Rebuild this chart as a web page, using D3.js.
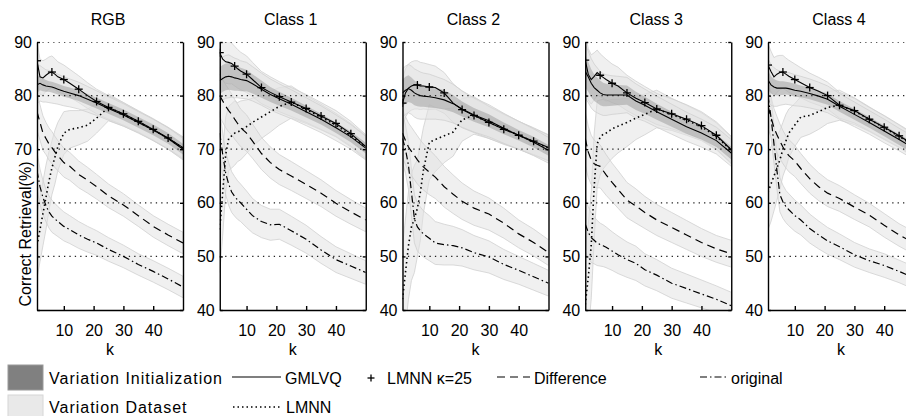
<!DOCTYPE html>
<meta charset="utf-8">
<style>
body { margin: 0; background: #fff; }
svg { display: block; font-family: "Liberation Sans", Arial, sans-serif; }

.band_data {
  fill: #e2e2e2;
  fill-opacity: .5;
  stroke: #d0d0d0;
  stroke-width: .8;
}
.band_init {
  fill: #7c7c7c;
  fill-opacity: .36;
  stroke: none;
}
.grid {
  stroke: #222;
  stroke-width: 1.3;
  stroke-dasharray: 1.3, 4.1;
}
.linha_gmlvq, .linha_lmnnk { fill: none; stroke: #000; stroke-width: 1.1; }
.linha_lmnn { fill: none; stroke: #000; stroke-width: 1.6; stroke-dasharray: 1.5, 3; }
.linha_diff { fill: none; stroke: #000; stroke-width: 1.2; stroke-dasharray: 8, 5; }
.linha_orig { fill: none; stroke: #000; stroke-width: 1.2; stroke-dasharray: 7, 3, 1.5, 3; }
.marker { stroke: #000; stroke-width: 1.3; }
.axis path, .axis line { stroke: #000; stroke-width: 1.4; }
.axis text { font-size: 16px; fill: #000; font-family: "Liberation Sans", Arial, sans-serif; }
</style>
<body>

<script src="https://cdn.jsdelivr.net/npm/d3@7"></script>
<script>

// panel names and k values
var panels = ["RGB", "Class 1", "Class 2", "Class 3", "Class 4"];
var ks = [1, 2, 3, 4, 5, 6, 7, 8, 10, 12, 15, 18, 21, 25, 30, 35, 40, 45, 50];
var markerKs = [1, 6, 10, 15, 21, 25, 30, 35, 40, 45];
var yTicks = [40, 50, 60, 70, 80, 90];
var xTicks = [10, 20, 30, 40];

// one row per panel (RGB, Class 1..4), values in %
var gmlvq = [
  [82, 82.3, 82, 81.8, 81.7, 81.6, 81.4, 81.2, 80.8, 80.5, 80, 79.3, 78.6, 77.6, 76.4, 75, 73.6, 72, 70],
  [82.8, 83.2, 83.5, 83.6, 83.5, 83.3, 83.2, 83, 82.8, 82.2, 81.2, 80.2, 79.4, 78.4, 77, 75.6, 74, 72.3, 70.2],
  [80.5, 81, 81.3, 81, 80.5, 80.2, 80, 79.9, 79.8, 79.6, 79.2, 78.5, 77.5, 76.4, 75.3, 73.9, 72.6, 71.3, 69.8],
  [84.5, 83.5, 82.3, 81.5, 81, 80.5, 80.2, 80.1, 80.1, 80.1, 80.1, 79, 78.2, 77, 75.6, 74.2, 73, 71.6, 69.3],
  [82.9, 82, 81.6, 81.4, 81.4, 81.4, 81.4, 81.3, 81, 80.8, 80.4, 79.9, 79.3, 78, 76.5, 75, 73.4, 71.8, 70.2]
];
var lmnnK25 = [
  [86.5, 83.5, 83.3, 83.8, 84.2, 84.4, 84, 83.5, 83, 82.3, 81.2, 80, 78.9, 77.8, 76.6, 75.2, 73.7, 72.1, 70.3],
  [88, 86.8, 86.3, 86.2, 86, 85.5, 85, 84.6, 84, 83, 81.5, 80.6, 79.8, 78.8, 77.6, 76.2, 74.8, 72.9, 70.5],
  [78.6, 80.5, 81.4, 81.8, 82, 82, 81.8, 81.8, 81.6, 81.5, 80.5, 78.6, 77.4, 76.3, 75, 73.7, 72.6, 71.5, 70.3],
  [86.6, 84, 83, 83.6, 84.3, 83.8, 83.4, 83, 82.3, 81.8, 80.5, 79.5, 78.7, 77.5, 76.6, 75.6, 74.4, 72.6, 69.9],
  [85.7, 84.5, 83.5, 84, 84.3, 84.4, 84, 83.6, 83, 82.4, 81.5, 80.8, 80, 78.2, 77.2, 75.6, 74.1, 72.5, 70.8]
];
var lmnn = [
  [52, 55, 58, 61, 64, 66.5, 68.5, 70.5, 73, 73.7, 74, 74.5, 75.8, 77.8, 76.5, 75.1, 73.6, 72, 70.2],
  [55, 62, 69, 72, 72.5, 73, 73.2, 73.5, 74.2, 75, 76, 77, 78, 78.8, 77.4, 76, 74.5, 72.6, 70.3],
  [42, 47, 52, 55.5, 57, 59, 62, 66, 71.3, 71.8, 72.5, 73.2, 75.5, 76.3, 75, 73.8, 72.6, 71.4, 70.2],
  [41, 46, 52, 63, 71, 72.2, 72.8, 73, 73.8, 74.3, 75, 75.8, 76.5, 77.5, 76.5, 75.4, 74.2, 72.4, 69.8],
  [62, 63.5, 65, 66.5, 68, 70, 71.5, 73, 74.5, 76, 76.3, 77, 77.8, 78.2, 77.1, 75.6, 74, 72.4, 70.6]
];
var difference = [
  [77, 75, 73, 72, 71, 70.3, 69.5, 68.8, 67.5, 66.8, 65.3, 64.2, 63, 61.3, 59.6, 57.6, 55.6, 54, 52.5],
  [80, 79, 78, 77.2, 76.5, 75.6, 74.8, 74, 73, 71.5, 69.2, 67.5, 66.2, 65, 63.4, 61.8, 59.9, 58.3, 56.8],
  [73, 71.6, 70.4, 69.6, 68.8, 68, 67.3, 66.7, 65.7, 64.8, 63, 61.6, 60.3, 59, 57.9, 56.2, 54.2, 52.6, 50.7],
  [72, 69.5, 68, 67.3, 67, 66.8, 66, 65.2, 63.8, 62.5, 60.5, 59.4, 58.2, 56.8, 55.4, 54, 52.6, 51.4, 50.5],
  [78, 76, 74, 72.7, 71.5, 70.4, 69.5, 68.8, 67.8, 66.4, 64.5, 63, 61.8, 60.8, 59.2, 57.7, 55.8, 54, 52.5]
];
var original = [
  [66, 63, 61, 59.5, 58.3, 57.5, 57, 56.5, 55.6, 55, 54, 53.2, 52.5, 51.3, 50, 48.5, 47.2, 45.8, 44.3],
  [73, 69, 65.5, 63.5, 62, 61.2, 60.5, 60, 58.8, 57.6, 56.5, 55.9, 56, 54.8, 53.2, 51.2, 49.4, 48.2, 47],
  [72, 70, 67, 62, 57, 55.5, 54.8, 54.2, 53.4, 52.5, 52.2, 52, 51.6, 50.7, 49.9, 48.5, 47.4, 46.2, 45],
  [56, 54.5, 53.5, 53, 52.5, 52.2, 52, 51.7, 51, 50.3, 49.4, 48.7, 47.5, 46.5, 45, 44, 43, 42, 40.8],
  [80, 76, 71, 66, 61.5, 60.2, 59.3, 58.7, 57.6, 56.8, 55.2, 54, 52.9, 51.8, 50.3, 49.2, 48.3, 47.2, 46]
];
// half widths of the shaded bands
var varInit = [
  [1.5, 1.3, 1.2, 1.1, 1, 1, 1, 1, 1, 1, 1, 1, 1, 1, 1, 1, 1, 1, 1],
  [2.5, 2.5, 2.5, 2.5, 2.5, 2.4, 2.3, 2.2, 2, 1.8, 1.6, 1.4, 1.3, 1.2, 1.1, 1, 1, 1, 1],
  [2.5, 2.5, 2.5, 2.4, 2.3, 2.2, 2.1, 2, 2, 1.9, 1.8, 1.6, 1.4, 1.3, 1.2, 1.1, 1, 1, 1],
  [3, 2.8, 2.6, 2.5, 2.4, 2.3, 2.2, 2.1, 2, 1.9, 1.8, 1.7, 1.6, 1.5, 1.4, 1.3, 1.2, 1.2, 1.2],
  [1.8, 1.6, 1.5, 1.4, 1.3, 1.3, 1.2, 1.2, 1.2, 1.1, 1.1, 1.1, 1, 1, 1, 1, 1, 1, 1]
];
var varData = [
  [3.5, 3.3, 3.2, 3, 3, 3, 2.9, 2.8, 2.7, 2.6, 2.5, 2.4, 2.3, 2.2, 2.1, 2, 2, 2, 2],
  [4, 4, 4, 4, 3.8, 3.7, 3.6, 3.5, 3.4, 3.2, 3, 2.9, 2.8, 2.7, 2.6, 2.5, 2.4, 2.3, 2.2],
  [4.5, 4.5, 4.5, 4.5, 4.5, 4.5, 4.4, 4.3, 4.2, 4, 3.8, 3.6, 3.4, 3.2, 3, 2.8, 2.6, 2.5, 2.4],
  [5, 4.8, 4.6, 4.4, 4.2, 4, 3.9, 3.8, 3.6, 3.5, 3.3, 3.2, 3, 2.9, 2.8, 2.7, 2.6, 2.5, 2.5],
  [4, 3.8, 3.6, 3.4, 3.2, 3.1, 3, 3, 2.9, 2.8, 2.7, 2.6, 2.5, 2.4, 2.3, 2.2, 2.2, 2.1, 2.1]
];
var varLmnn = [
  [6, 6, 6, 6, 5.5, 5, 5, 4.5, 4, 3.5, 3.2, 3, 2.8, 2.5, 2.2, 2, 2, 2, 2],
  [8, 8, 7, 6, 6, 6, 5.5, 5.5, 5, 4.5, 4, 3.8, 3.5, 3, 2.6, 2.4, 2.2, 2.2, 2.2],
  [10, 10, 10, 10, 10, 9, 9, 8, 7, 6, 5, 4.5, 4, 3.5, 3, 2.8, 2.6, 2.5, 2.4],
  [10, 10, 10, 10, 8, 7, 6.5, 6, 5.5, 5, 4.5, 4, 3.8, 3.5, 3, 2.8, 2.6, 2.5, 2.5],
  [7, 7, 6.5, 6, 5.5, 5, 5, 4.5, 4, 3.8, 3.5, 3.3, 3, 2.8, 2.5, 2.3, 2.2, 2.1, 2.1]
];

// layout
var margin = {left: 37, top: 42},
    width = 146, height = 268, step = 182.75;

var x = d3.scaleLinear().domain([1, 50]).range([0, width]);
var y = d3.scaleLinear().domain([40, 90]).range([height, 0]);

var linha = d3.line()
    .x(function(d) { return x(d.k); })
    .y(function(d) { return y(d.v); });

var faixa = d3.area()
    .x(function(d) { return x(d.k); })
    .y0(function(d) { return y(d.v - d.s); })
    .y1(function(d) { return y(d.v + d.s); });

function serie(vals, spread) {
  return ks.map(function(k, i) {
    return {k: k, v: vals[i], s: spread ? spread[i] : 0};
  });
}

var svg = d3.select("body").append("svg")
    .attr("width", 906)
    .attr("height", 416);

svg.append("rect").attr("width", 906).attr("height", 416).attr("fill", "#fff");

svg.append("clipPath").attr("id", "clip")
  .append("rect").attr("width", width).attr("height", height);

panels.forEach(function(name, p) {
  var g = svg.append("g")
      .attr("transform", "translate(" + (margin.left + p * step) + "," + margin.top + ")");

  var plot = g.append("g").attr("clip-path", "url(#clip)");

  // light bands (variation dataset)
  [[lmnn[p], varLmnn[p]], [original[p], varData[p]], [difference[p], varData[p]],
   [lmnnK25[p], varData[p]], [gmlvq[p], varData[p]]].forEach(function(b) {
    plot.append("path")
        .attr("class", "band_data")
        .attr("d", faixa(serie(b[0], b[1])));
  });

  // dark band (variation initialization)
  plot.append("path")
      .attr("class", "band_init")
      .attr("d", faixa(serie(gmlvq[p], varInit[p])));

  // dotted grid
  plot.selectAll(".grid").data(yTicks.filter(function(t) { return t > 40; }))
    .enter().append("line")
      .attr("class", "grid")
      .attr("x1", 0).attr("x2", width)
      .attr("y1", function(d) { return y(d); })
      .attr("y2", function(d) { return y(d); });

  plot.append("path").attr("class", "linha_orig").attr("d", linha(serie(original[p])));
  plot.append("path").attr("class", "linha_diff").attr("d", linha(serie(difference[p])));
  plot.append("path").attr("class", "linha_lmnn").attr("d", linha(serie(lmnn[p])));
  plot.append("path").attr("class", "linha_gmlvq").attr("d", linha(serie(gmlvq[p])));
  plot.append("path").attr("class", "linha_lmnnk").attr("d", linha(serie(lmnnK25[p])));

  // + markers
  var marks = serie(lmnnK25[p]).filter(function(d) { return markerKs.indexOf(d.k) >= 0; });
  var mk = plot.selectAll(".mk").data(marks).enter().append("g")
      .attr("class", "marker")
      .attr("transform", function(d) { return "translate(" + x(d.k) + "," + y(d.v) + ")"; });
  mk.append("line").attr("x1", -4).attr("x2", 4);
  mk.append("line").attr("y1", -4).attr("y2", 4);

  // axes
  g.append("g").attr("class", "axis")
      .call(d3.axisLeft(y).tickValues(yTicks).tickSize(-3).tickSizeOuter(0).tickPadding(5)
        .tickFormat(function(v) { return (p === 0 && v < 70) ? "" : v; }));
  g.append("g").attr("class", "axis")
      .attr("transform", "translate(" + width + ",0)")
      .call(d3.axisRight(y).tickValues(yTicks).tickSize(-3).tickSizeOuter(0).tickFormat(""));
  g.append("g").attr("class", "axis")
      .attr("transform", "translate(0," + height + ")")
      .call(d3.axisBottom(x).tickValues(xTicks).tickSize(-4).tickSizeOuter(0).tickPadding(15));

  // title and x label
  g.append("text")
      .attr("x", width / 2 - 2).attr("y", -17)
      .attr("text-anchor", "middle")
      .style("font-size", "16px")
      .text(name);
  g.append("text")
      .attr("x", width / 2).attr("y", height + 45)
      .attr("text-anchor", "middle")
      .style("font-size", "16px")
      .text("k");
});

// y label
svg.append("text")
    .attr("transform", "translate(31,234) rotate(-90)")
    .attr("text-anchor", "middle")
    .style("font-size", "16px")
    .text("Correct Retrieval(%)");

// legend
var leg = svg.append("g");
leg.append("rect").attr("x", 8).attr("y", 365).attr("width", 35).attr("height", 25)
    .attr("fill", "#808080").attr("stroke", "#9a9a9a");
leg.append("rect").attr("x", 8).attr("y", 395).attr("width", 35).attr("height", 25)
    .attr("fill", "#e9e9e9").attr("stroke", "#d6d6d6");
leg.append("text").attr("x", 49).attr("y", 384).style("font-size", "16px")
    .style("letter-spacing", "1px").text("Variation Initialization");
leg.append("text").attr("x", 49).attr("y", 413).style("font-size", "16px")
    .style("letter-spacing", "1px").text("Variation Dataset");

leg.append("line").attr("class", "linha_gmlvq").attr("x1", 232).attr("x2", 281).attr("y1", 377).attr("y2", 377);
leg.append("text").attr("x", 285).attr("y", 384).style("font-size", "16px").text("GMLVQ");
leg.append("line").attr("class", "linha_lmnn").attr("x1", 233).attr("x2", 280).attr("y1", 407).attr("y2", 407);
leg.append("text").attr("x", 286).attr("y", 413).style("font-size", "16px").text("LMNN");

var lm = leg.append("g").attr("class", "marker").attr("transform", "translate(371,378)");
lm.append("line").attr("x1", -3.5).attr("x2", 3.5);
lm.append("line").attr("y1", -3.5).attr("y2", 3.5);
leg.append("text").attr("x", 387).attr("y", 384).style("font-size", "16px").text("LMNN κ=25");

leg.append("line").attr("class", "linha_diff").attr("x1", 497).attr("x2", 530).attr("y1", 377).attr("y2", 377);
leg.append("text").attr("x", 534).attr("y", 384).style("font-size", "16px").text("Difference");
leg.append("line").attr("class", "linha_orig").attr("x1", 700).attr("x2", 727).attr("y1", 377).attr("y2", 377);
leg.append("text").attr("x", 731).attr("y", 384).style("font-size", "16px").text("original");

</script>
</body>
